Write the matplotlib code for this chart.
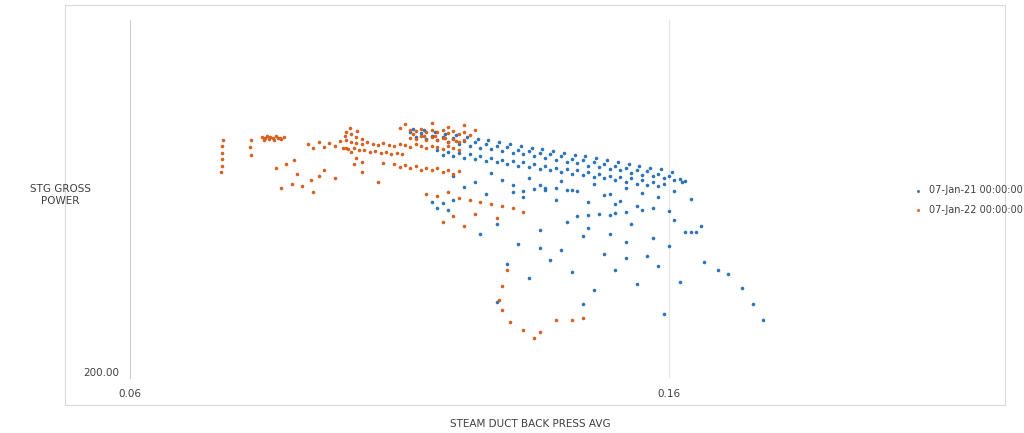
import matplotlib
matplotlib.use("Agg")
import matplotlib.pyplot as plt
from matplotlib.patches import Rectangle

series_names = ["07-Jan-21 00:00:00", "07-Jan-22 00:00:00"]
x_ticks = [0.06, 0.16]
y_tick = 200.0

# Series 1 (blue) values
blue_x = [
    # upper band
    .112,.114,.116,.118,.120,.122,.124,.126,.128,.130,.132,.134,.136,.138,.140,.142,.144,.146,.148,.150,.152,.154,.156,.158,.160,.162,.163,
    .113,.115,.117,.119,.121,.123,.125,.127,.129,.131,.133,.135,.137,.139,.141,.143,.145,.147,.149,.151,.153,.155,.157,.159,.161,.1625,
    .1125,.1145,.1165,.1185,.1205,.1225,.1245,.1265,.1285,.1305,.1325,.1345,.1365,.1385,.1405,.1425,.1445,.1465,.1485,.1505,.1525,.1545,.1565,.1585,.1605,
    # lower band
    .117,.119,.121,.123,.125,.127,.129,.131,.133,.135,.137,.139,.141,.143,.145,.147,.149,.151,.153,.155,.157,.159,
    .118,.120,.122,.124,.126,.128,.130,.132,.134,.136,.138,.140,.142,.144,.146,.148,.150,.152,.154,.156,.158,
    # mid scatter
    .120,.124,.127,.131,.134,.137,.140,.143,.146,.149,.152,.155,.158,.161,.164,.122,.126,.129,.133,.136,.139,.142,.145,.148,.151,.154,.157,.160,
    .131,.133,.135,.137,.139,.141,.143,.145,.147,.149,.150,.152,
    .116,.117,.118,.119,.120,.125,.128,.132,.136,.140,.144,.148,.152,.156,.160,.163,.166,
    .130,.134,.138,.142,.146,.150,.154,.158,.162,.128,.136,.144,.152,.159,.165,
    .141,.145,.149,.153,.157,.161,.164,.155,.150,
    # right arc
    .1665,.169,.171,.1735,.1755,.1775,
]
blue_y = [
    261.5,261.2,260.6,260.3,259.9,259.2,258.9,258.5,258.0,257.7,257.1,256.8,256.2,255.9,255.5,254.8,254.5,254.1,253.5,253.1,252.6,252.1,251.7,251.0,250.5,249.8,249.3,
    260.2,259.8,259.4,258.9,258.4,258.1,257.5,257.2,256.7,256.2,255.9,255.4,254.9,254.6,254.0,253.7,253.1,252.7,252.2,251.9,251.3,250.8,250.5,249.9,249.6,249.0,
    262.3,262.0,261.6,261.1,260.7,260.3,259.8,259.4,258.9,258.6,258.0,257.6,257.2,256.7,256.3,255.8,255.4,255.0,254.4,254.1,253.6,253.0,252.6,252.2,251.6,
    257.0,256.6,256.3,255.9,255.5,255.1,254.6,254.3,253.9,253.5,253.1,252.6,252.3,251.9,251.4,251.1,250.6,250.3,249.9,249.4,249.1,248.6,
    255.8,255.4,255.0,254.7,254.2,253.9,253.5,253.0,252.7,252.3,251.9,251.5,251.1,250.7,250.2,249.9,249.4,249.1,248.6,248.3,247.9,
    250.5,249.0,251.2,248.2,250.0,247.5,249.3,246.8,248.6,245.9,247.4,246.2,245.3,246.7,244.8,247.8,246.1,249.5,245.2,248.3,244.6,247.0,243.9,245.8,244.2,243.0,242.5,241.8,
    246.5,246.8,247.2,246.9,247.4,247.0,240.5,240.8,241.0,240.7,241.2,241.5,
    244.0,242.5,243.8,241.9,244.5,236.0,238.5,233.5,237.0,232.0,235.5,231.0,234.0,230.5,233.0,236.5,238.0,
    228.5,225.0,229.5,226.5,222.0,227.0,223.5,228.0,224.0,219.0,232.5,218.5,230.0,216.0,236.5,
    239.0,237.5,236.0,238.5,235.0,239.5,236.5,242.0,243.5,
    229.0,227.0,226.0,222.5,218.5,214.5,
]

# Series 2 (orange) values
orange_x = [
    # far-left arc
    .0772,.0771,.0771,.0770,.0770,.0769,
    .0823,.0824,.0825,
    # small cluster
    .0845,.0850,.0855,.0860,.0865,.0870,.0875,.0880,.0885,.0848,.0858,.0868,.0878,
    # main band
    .093,.095,.097,.099,.100,.101,.102,.103,.104,.105,.106,.107,.108,.109,.110,.111,.112,.113,.114,.115,.116,.117,.118,.119,.120,.121,
    .094,.096,.098,.0995,.1005,.1015,.1025,.1035,.1045,.1055,.1065,.1075,.1085,.1095,.1105,
    .100,.101,.102,.103,.1000,.1010,.1020,.1030,.1008,.1015,.0998,.1022,
    # upper cluster near 0.112-0.123
    .112,.113,.114,.115,.116,.117,.118,.119,.120,.121,.122,.123,.112,.113,.114,.115,.116,.117,.118,.119,.120,.121,.122,.1125,.1145,.1165,.1185,.1205,
    .110,.111,.116,.119,.122,.124,
    # second band
    .107,.109,.111,.113,.115,.117,.119,.121,.110,.112,.114,.116,.118,.120,
    # scatter left
    .089,.091,.0935,.096,.098,.092,.0905,.088,.095,.103,.106,.087,.090,.094,
    # lower parts
    .115,.117,.119,.121,.123,.125,.127,.129,.131,.133,.120,.124,.128,.118,.122,
    .130,.129,.1285,.1290,.1305,.133,.136,.139,.142,.144,.135,
]
orange_y = [
    259.5,258.0,256.3,254.7,253.0,251.5,
    257.7,255.7,259.5,
    260.3,260.0,260.5,260.2,259.9,260.4,260.1,259.8,260.3,259.6,259.7,259.5,259.9,
    258.5,259.0,258.8,259.2,259.5,259.0,258.7,258.4,258.9,258.6,258.2,258.7,258.3,257.9,258.5,258.2,257.8,258.4,258.0,257.6,258.1,257.7,257.3,257.9,257.5,257.1,
    257.5,257.8,258.0,257.6,257.3,257.4,257.0,256.9,256.5,256.7,256.3,256.5,256.0,256.3,255.9,
    261.5,261.0,260.3,259.8,257.5,256.5,255.0,254.0,262.5,253.5,260.5,261.8,
    262.0,261.7,262.3,261.5,262.1,261.4,262.0,261.2,261.8,261.0,261.6,260.8,260.0,259.8,260.4,259.6,260.2,259.4,260.0,259.1,259.7,258.9,259.4,261.0,260.6,260.4,259.9,259.3,
    262.5,263.5,263.8,262.8,263.2,261.9,
    253.8,253.5,253.2,252.9,252.6,252.4,252.0,251.7,252.8,252.5,252.1,251.9,251.4,251.0,
    253.5,251.0,249.5,252.0,250.0,248.0,254.5,247.5,250.5,251.5,249.0,252.5,248.5,246.5,
    246.0,245.5,246.5,245.0,244.5,244.0,243.5,243.0,242.5,241.5,240.5,241.0,240.0,239.0,238.0,
    227.0,223.0,219.5,217.0,214.0,212.0,211.5,214.5,214.5,215.0,210.0,
]

fig = plt.figure(figsize=(10.24, 4.33), dpi=100)
fig.patches.append(Rectangle((65/1024, 28/433), 940/1024, 400/433, transform=fig.transFigure,
                             fill=False, edgecolor="#d9d9d9", linewidth=0.8))
ax = fig.add_axes([130/1024, 55/433, 760/1024, 358/433])
ax.scatter(blue_x, blue_y, s=5, color="#2b78c2", edgecolors="#1f5f9e", linewidths=0.3,
           label=series_names[0], zorder=3)
ax.scatter(orange_x, orange_y, s=5, color="#e4621c", edgecolors="#b9541a", linewidths=0.3,
           label=series_names[1], zorder=3)
ax.set_xlim(0.06, 0.201)
ax.set_ylim(200, 289.5)
ax.set_xticks(x_ticks)
ax.set_xticklabels([f"{v:.2f}" for v in x_ticks])
ax.set_yticks([y_tick])
ax.set_yticklabels([f"{y_tick:.2f}"])
ax.tick_params(length=0, labelsize=7.5, colors="#404040")
ax.tick_params(axis="x", pad=8)
ax.tick_params(axis="y", pad=8)
for lbl in ax.get_yticklabels():
    lbl.set_verticalalignment("bottom")
for s in ["top", "right", "bottom"]:
    ax.spines[s].set_visible(False)
ax.spines["left"].set_color("#d0d0d0")
ax.axvline(0.16, color="#e6e6e6", linewidth=0.8, zorder=1)
fig.text(60/1024, 1 - 195/433, "STG GROSS\nPOWER", ha="center", va="center", fontsize=7.5, color="#404040")
fig.text(530/1024, 1 - 424/433, "STEAM DUCT BACK PRESS AVG", ha="center", va="center", fontsize=7.5, color="#404040")
leg = fig.legend(loc="center left", bbox_to_anchor=(900/1024, 1 - 200/433), frameon=False,
                 fontsize=7, markerscale=0.8, handletextpad=0.1, labelspacing=1.0)
for t in leg.get_texts():
    t.set_color("#404040")
fig.savefig("out.png", dpi=100)
